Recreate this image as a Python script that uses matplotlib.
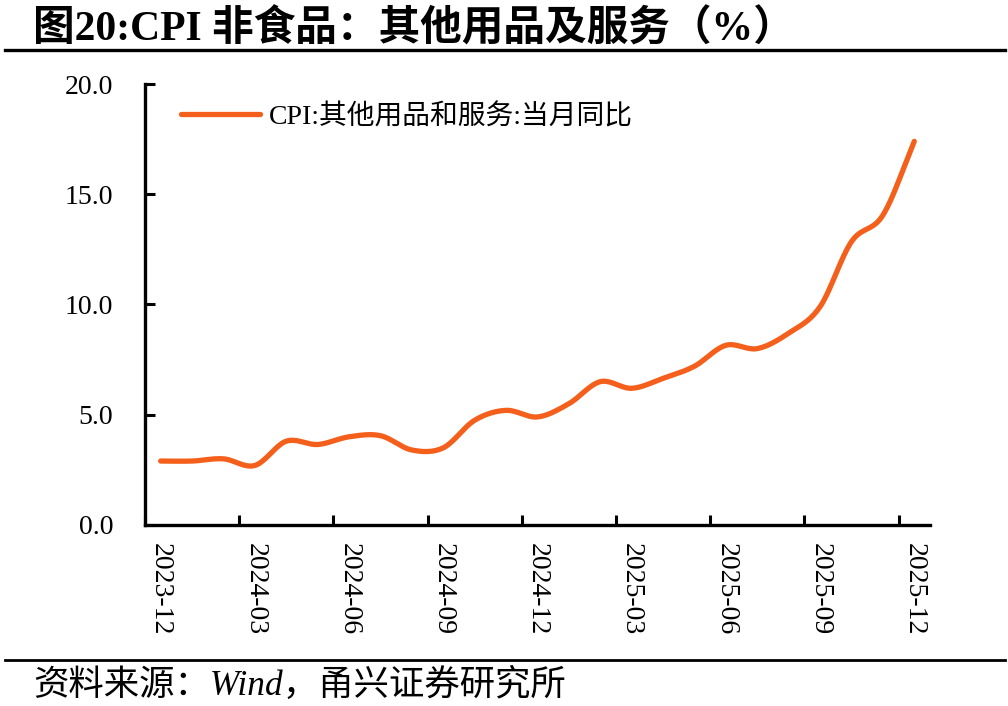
import matplotlib
matplotlib.use('Agg')
import matplotlib.pyplot as plt
import numpy as np
from matplotlib.lines import Line2D

plt.rcParams['font.family'] = ['Liberation Serif', 'Noto Sans CJK SC']

# Data
months = ['2023-12', '2024-01', '2024-02', '2024-03', '2024-04', '2024-05', '2024-06',
          '2024-07', '2024-08', '2024-09', '2024-10', '2024-11', '2024-12', '2025-01',
          '2025-02', '2025-03', '2025-04', '2025-05', '2025-06', '2025-07', '2025-08',
          '2025-09', '2025-10', '2025-11', '2025-12']
values = [2.9, 2.9, 3.0, 2.7, 3.8, 3.65, 4.0, 4.05, 3.4, 3.5, 4.75, 5.2, 4.9, 5.5,
          6.5, 6.2, 6.65, 7.2, 8.15, 8.0, 8.7, 9.9, 12.85, 14.05, 17.4]
series_label = 'CPI:其他用品和服务:当月同比'
title = '图20:CPI 非食品：其他用品及服务（%）'
source = '资料来源：Wind，甬兴证券研究所'
line_color = '#F4601C'


def catmull_rom(x, y, n=20):
    # smooth line through the points, like a spreadsheet "smoothed line"
    x = np.asarray(x, float)
    y = np.asarray(y, float)
    px = np.concatenate([[2 * x[0] - x[1]], x, [2 * x[-1] - x[-2]]])
    py = np.concatenate([[2 * y[0] - y[1]], y, [2 * y[-1] - y[-2]]])
    xs, ys = [], []
    t = np.linspace(0, 1, n, endpoint=False)
    for i in range(1, len(px) - 2):
        for p, out in ((px, xs), (py, ys)):
            p0, p1, p2, p3 = p[i - 1], p[i], p[i + 1], p[i + 2]
            out.extend(0.5 * ((2 * p1) + (-p0 + p2) * t
                              + (2 * p0 - 5 * p1 + 4 * p2 - p3) * t ** 2
                              + (-p0 + 3 * p1 - 3 * p2 + p3) * t ** 3))
    xs.append(x[-1])
    ys.append(y[-1])
    return np.array(xs), np.array(ys)


fig = plt.figure(figsize=(10.08, 7.06), dpi=100)
ax = fig.add_axes([0.1438, 0.2564, 0.7788, 0.6246])

idx = np.arange(len(months))
sx, sy = catmull_rom(idx, values)
ax.plot(sx, sy, color=line_color, linewidth=3.8, solid_capstyle='round', label=series_label)

ax.set_xlim(-0.5, len(months) - 0.5)
ax.set_ylim(0, 20)
ax.set_yticks([0, 5, 10, 15, 20])
ax.set_yticklabels([f'{v:.1f}' for v in [0, 5, 10, 15, 20]])

# tick marks between categories, labels on category centres
ax.set_xticks(np.arange(-0.5, len(months), 3))
ax.set_xticklabels([])
ax.set_xticks(idx[::3], minor=True)
ax.set_xticklabels(months[::3], minor=True, rotation=-90)
ax.tick_params(axis='x', which='minor', length=0, pad=13, labelsize=20)
ax.tick_params(axis='x', which='major', direction='in', length=7, width=2.2)
ax.tick_params(axis='y', direction='in', length=7, width=2.2, pad=23, labelsize=20)

for s in ['top', 'right']:
    ax.spines[s].set_visible(False)
for s in ['left', 'bottom']:
    ax.spines[s].set_linewidth(2.4)

ax.legend(loc='center left', bbox_to_anchor=(0.046, 0.925), frameon=False,
          fontsize=20, handlelength=2.85, handletextpad=0.3, borderpad=0, borderaxespad=0)

fig.text(0.033, 0.958, title, fontsize=30, fontweight='bold', va='center', ha='left')
fig.add_artist(Line2D([0.005, 0.997], [0.929, 0.929], transform=fig.transFigure,
                      color='black', linewidth=2.4))
fig.add_artist(Line2D([0.005, 0.997], [0.065, 0.065], transform=fig.transFigure,
                      color='black', linewidth=2.0))
fig.text(0.033, 0.028, source, fontsize=25.5, style='italic', va='center', ha='left')

fig.savefig('out.png', dpi=100)
